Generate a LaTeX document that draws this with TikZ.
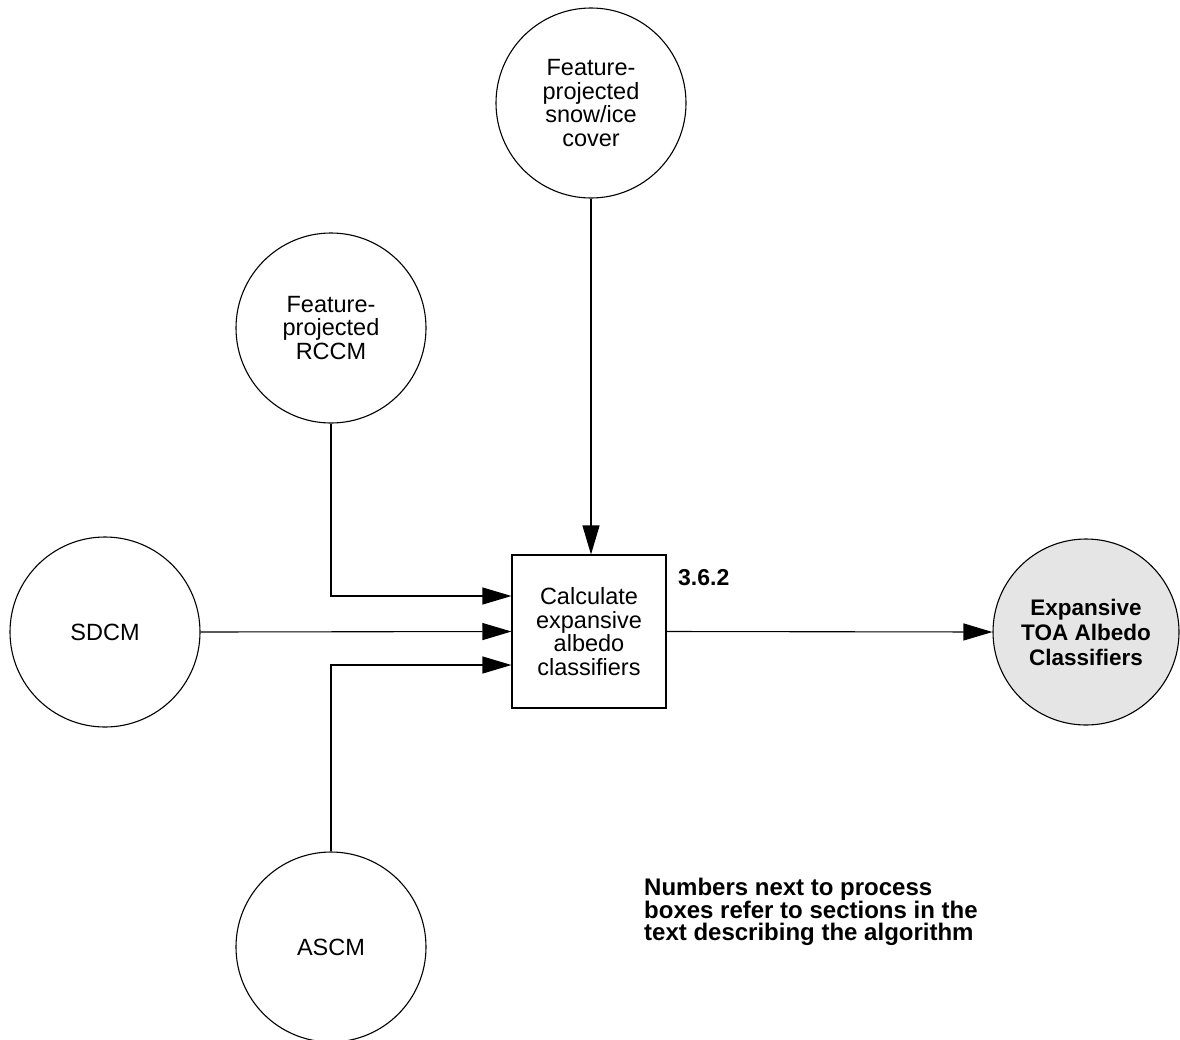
\documentclass[tikz,border=0pt]{standalone}
\usepackage{fontspec}
\setmainfont{Liberation Sans}
\usetikzlibrary{arrows.meta}
\begin{document}
\begin{tikzpicture}[x=1pt,y=-1pt,
  store/.style={circle,draw,line width=1.1pt,minimum size=190pt,inner sep=0pt,
    align=center,font=\fontsize{23.5}{23.5}\selectfont},
  outstore/.style={store,fill=black!10,minimum size=186pt,
    font=\fontsize{22.5}{25}\selectfont\bfseries},
  procbox/.style={rectangle,draw,line width=1.1pt,minimum width=154pt,minimum height=153pt,
    inner sep=0pt,align=center,font=\fontsize{23.5}{23.5}\selectfont},
  flow/.style={line width=1.1pt,-{Triangle[length=29pt,width=17pt]}},
  boldnote/.style={font=\fontsize{24}{22.5}\selectfont\bfseries,align=left,inner sep=0pt}]
\useasboundingbox (0,0) rectangle (1180,1039);

% data stores and process
\node[store] (snow) at (591,103) {Feature-\\projected\\snow/ice\\cover};
\node[store] (rccm) at (331,328) {Feature-\\projected\\RCCM};
\node[store] (sdcm) at (105,632) {SDCM};
\node[store] (ascm) at (331,947) {ASCM};
\node[procbox] (calc) at (589,631.5) {Calculate\\expansive\\albedo\\classifiers};
\node[outstore] (toa) at (1086,632) {Expansive\\TOA Albedo\\Classifiers};

% section label and note
\node[boldnote,font=\fontsize{23}{23}\selectfont\bfseries,anchor=west] (sec) at (678,578) {3.6.2};
\node[boldnote,anchor=north west] (note) at (644,878)
  {Numbers next to process\\boxes refer to sections in the\\text describing the algorithm};

% data flows
\draw[flow] (snow.south) -- (snow.south |- calc.north);
\draw[flow] (rccm.south) |- ([yshift=35.5pt]calc.west);
\draw[flow] (sdcm.east) -- (calc.west);
\draw[flow] (ascm.north) |- ([yshift=-33.5pt]calc.west);
\draw[flow] (calc.east) -- (toa.west);
\end{tikzpicture}
\end{document}
